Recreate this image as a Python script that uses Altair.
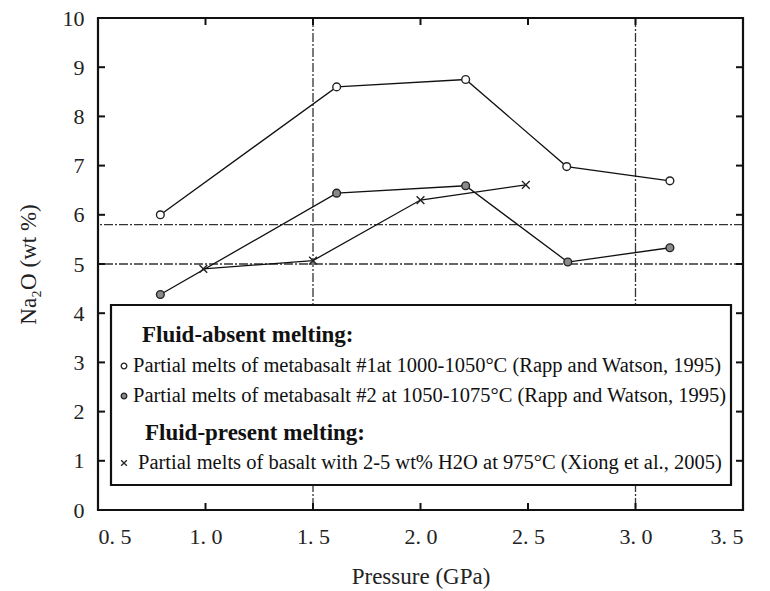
import altair as alt
import pandas as pd

# ---- data ----
s1_x = [0.79, 1.61, 2.21, 2.68, 3.16]
s1_y = [6.0, 8.6, 8.75, 6.98, 6.69]
s2_x = [0.79, 1.61, 2.21, 2.685, 3.16]
s2_y = [4.38, 6.44, 6.59, 5.04, 5.33]
s3_x = [0.99, 1.5, 2.0, 2.49]
s3_y = [4.9, 5.07, 6.3, 6.61]

vlines = [1.5, 3.0]
hlines = [5.0, 5.8]
x_ticks = [0.5, 1.0, 1.5, 2.0, 2.5, 3.0, 3.5]
y_ticks = [0, 1, 2, 3, 4, 5, 6, 7, 8, 9, 10]

legend_headers = ["Fluid-absent melting:", "Fluid-present melting:"]
legend_items = [
    "Partial melts of metabasalt #1at 1000-1050°C (Rapp and Watson, 1995)",
    "Partial melts of metabasalt #2 at 1050-1075°C (Rapp and Watson, 1995)",
    "Partial melts of basalt with 2-5 wt% H2O at 975°C (Xiong et al., 2005)",
]

W, H = 645, 492
FONT = "Liberation Serif"
XSHAPE = "M-1,-1L1,1M-1,1L1,-1"

xs = alt.Scale(domain=[0.5, 3.5], nice=False, zero=False)
ys = alt.Scale(domain=[0, 10], nice=False, zero=True)

xax = alt.Axis(values=x_ticks, ticks=False, domain=False, grid=False,
               labelExpr="replace(format(datum.value, '.1f'), '.', '. ')",
               labelFont=FONT, labelFontSize=22, labelColor="#222", labelPadding=16,
               title="Pressure (GPa)", titleFont=FONT, titleFontSize=23,
               titleFontWeight="normal", titleColor="#222", titlePadding=18)
yax = alt.Axis(values=y_ticks, ticks=False, domain=False, grid=False,
               labelFont=FONT, labelFontSize=22, labelColor="#222", labelPadding=14,
               title="Na₂O (wt %)", titleFont=FONT, titleFontSize=23,
               titleFontWeight="normal", titleColor="#222", titlePadding=22)

X = alt.X("x:Q", scale=xs, axis=xax)
Y = alt.Y("y:Q", scale=ys, axis=yax)

d1 = pd.DataFrame({"x": s1_x, "y": s1_y})
d2 = pd.DataFrame({"x": s2_x, "y": s2_y})
d3 = pd.DataFrame({"x": s3_x, "y": s3_y})

base_axes = alt.Chart(pd.DataFrame({"x": [0.5], "y": [0]})).mark_point(opacity=0).encode(x=X, y=Y)

dash = [9, 2, 2, 2]
vl = alt.Chart(pd.DataFrame({"x": vlines})).mark_rule(
    color="#333", strokeWidth=1.3, strokeDash=dash).encode(x=X)
hl = alt.Chart(pd.DataFrame({"y": hlines})).mark_rule(
    color="#333", strokeWidth=1.3, strokeDash=dash).encode(y=Y)

tx = pd.DataFrame({"x": x_ticks})
ty = pd.DataFrame({"y": y_ticks})
tick_b = alt.Chart(tx).mark_rule(color="#111", strokeWidth=2).encode(
    x=X, y=alt.value(H), y2=alt.value(H - 7))
tick_t = alt.Chart(tx).mark_rule(color="#111", strokeWidth=2).encode(
    x=X, y=alt.value(0), y2=alt.value(7))
tick_l = alt.Chart(ty).mark_rule(color="#111", strokeWidth=2).encode(
    y=Y, x=alt.value(0), x2=alt.value(7))
tick_r = alt.Chart(ty).mark_rule(color="#111", strokeWidth=2).encode(
    y=Y, x=alt.value(W), x2=alt.value(W - 7))


def series(df, shape, filled, fill):
    line = alt.Chart(df).mark_line(color="#111", strokeWidth=1.3).encode(x=X, y=Y)
    pts = alt.Chart(df).mark_point(shape=shape, filled=filled, size=60, fill=fill,
                                   fillOpacity=1, stroke="#222", strokeWidth=1.4,
                                   opacity=1).encode(x=X, y=Y)
    return line + pts

l1 = series(d1, "circle", False, "white")
l2 = series(d2, "circle", True, "#8a8a8a")
l3 = series(d3, XSHAPE, False, "white")

one = pd.DataFrame({"a": [0]})
box = alt.Chart(one).mark_rect(fill="white", stroke="#111", strokeWidth=2.2).encode(
    x=alt.value(13), x2=alt.value(633), y=alt.value(287), y2=alt.value(467))
frame = alt.Chart(one).mark_rect(fill=None, fillOpacity=0, stroke="#111", strokeWidth=2.2).encode(
    x=alt.value(0), x2=alt.value(W), y=alt.value(0), y2=alt.value(H))

def txt(s, x, y, bold=False, size=20.5):
    return alt.Chart(pd.DataFrame({"t": [s]})).mark_text(
        align="left", baseline="middle", font=FONT, fontSize=size,
        fontWeight="bold" if bold else "normal", color="#111").encode(
        text="t:N", x=alt.value(x), y=alt.value(y))

def marker(x, y, shape, filled, fill):
    return alt.Chart(one).mark_point(shape=shape, filled=filled, size=32,
                                     fill=fill, stroke="#222", strokeWidth=1.3, opacity=1).encode(
        x=alt.value(x), y=alt.value(y))

leg = (box
       + txt(legend_headers[0], 44, 317, bold=True, size=23)
       + marker(26, 348, "circle", False, "white") + txt(legend_items[0], 35, 348)
       + marker(26, 378, "circle", True, "#8a8a8a") + txt(legend_items[1], 35, 378)
       + txt(legend_headers[1], 47, 415, bold=True, size=23)
       + marker(26, 445, XSHAPE, False, "white") + txt(legend_items[2], 40, 445))

chart = alt.layer(base_axes, vl, hl, l1, l2, l3, leg,
                  tick_b, tick_t, tick_l, tick_r, frame).properties(
    width=W, height=H, background="white",
    autosize=alt.AutoSizeParams(type="none"),
    padding={"left": 98, "top": 18, "right": 27, "bottom": 81},
).configure_view(stroke=None)

chart.save("out.html", embed_options={"renderer": "svg", "actions": False})
